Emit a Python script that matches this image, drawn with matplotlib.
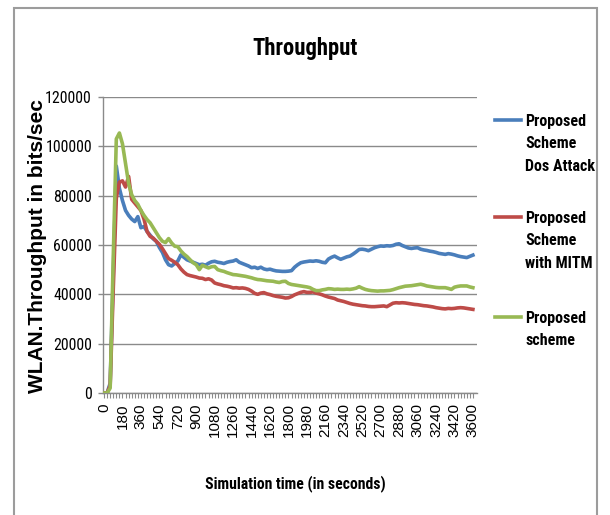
import matplotlib
matplotlib.use("Agg")
import matplotlib.pyplot as plt
from matplotlib import font_manager
from matplotlib.font_manager import FontProperties
from matplotlib.textpath import TextPath
from matplotlib.lines import Line2D
from matplotlib.patches import Rectangle
from matplotlib.ticker import FixedLocator

# ---- data: throughput sampled every 30 s -------------------------------
times = list(range(0, 3601, 30))

dos_attack = [
    0, 0, 4000, 48000, 92000, 83000, 78000, 74000, 72000, 70500,
    69500, 71500, 67000, 67500, 65500, 64000, 62500, 61500, 59000, 57000,
    54000, 52000, 51500, 52500, 53500, 56000, 55000, 54000, 53500, 53000,
    52500, 52000, 52200, 51800, 52600, 53200, 53400, 53000, 52800, 52500,
    53000, 53300, 53500, 54000, 53000, 52500, 52000, 51500, 50800, 51000,
    50500, 51000, 50300, 50000, 50200, 49800, 49500, 49400, 49300, 49300,
    49400, 49600, 51000, 52000, 52800, 53100, 53300, 53500, 53400, 53600,
    53400, 53000, 52800, 54300, 55000, 55500, 54800, 54200, 54700, 55200,
    55500, 56300, 57200, 58200, 58300, 58100, 57700, 58300, 58900, 59300,
    59600, 59500, 59700, 59600, 59800, 60300, 60500, 59800, 59300, 58800,
    58600, 58800, 58900, 58300, 58000, 57800, 57500, 57300, 57000, 56600,
    56400, 56200, 56500, 56300, 56000, 55600, 55300, 55100, 54900, 55400,
    55900,
]

with_mitm = [
    0, 0, 3000, 42000, 79000, 85500, 86000, 83500, 87800, 78500,
    77000, 75500, 74000, 70500, 65500, 63500, 62800, 61500, 60300, 58500,
    56500, 54500, 53800, 53000, 52000, 50300, 49000, 48000, 47600, 47300,
    47000, 46600, 46500, 46000, 46300, 45800, 44600, 44200, 43900, 43500,
    43300, 43000, 42600, 42700, 42500, 42600, 42400, 42000, 41300, 40400,
    40000, 40500, 40700, 40200, 39900, 39500, 39200, 39000, 38800, 38500,
    38600, 39100, 39800, 40300, 40800, 41100, 40800, 40800, 41000, 40500,
    40200, 39800, 39300, 38900, 38600, 38300, 37700, 37400, 37100, 36700,
    36300, 36000, 35800, 35600, 35400, 35300, 35100, 35000, 35000, 35100,
    35200, 35300, 35000, 35700, 36400, 36600, 36500, 36600, 36500, 36300,
    36100, 35900, 35800, 35600, 35400, 35300, 35100, 34900, 34600, 34400,
    34200, 34100, 34300, 34200, 34300, 34500, 34600, 34500, 34300, 34100,
    33900,
]

proposed = [
    0, 0, 2000, 55000, 103000, 105400, 101000, 93000, 85000, 80400,
    78000, 76500, 74000, 72000, 70300, 69000, 67000, 65000, 63000, 61500,
    61000, 62600, 60800, 59500, 59300, 57600, 56300, 55300, 54000, 52800,
    52000, 50000, 51800, 51200, 50700, 51200, 51300, 50000, 49600, 49300,
    48800, 48400, 48000, 47900, 47700, 47500, 47300, 47000, 46700, 46300,
    46000, 45900, 45700, 45500, 45400, 45300, 45000, 44800, 45200, 45300,
    44400, 44000, 43800, 43600, 43400, 43200, 43000, 42700, 42000, 41500,
    41500, 41800, 42000, 42300, 42200, 42000, 42100, 42000, 42000, 42100,
    42000, 42200, 42500, 43100, 42500, 42000, 41700, 41500, 41400, 41300,
    41400, 41400, 41500, 41600, 41900, 42300, 42700, 43000, 43300, 43400,
    43500, 43700, 43900, 44100, 43800, 43400, 43200, 43000, 42800, 42700,
    42700, 42700, 42400, 42000, 42900, 43200, 43400, 43400, 43400, 43000,
    42700,
]

series_labels = [
    "Proposed\nScheme\nDos Attack",
    "Proposed\nScheme\nwith MITM",
    "Proposed\nscheme",
]
series_colors = ["#4A7EBB", "#BE4B48", "#98B954"]

title = "Throughput"
x_title = "Simulation time (in seconds)"
y_title = "WLAN.Throughput in bits/sec"
y_ticks = [0, 20000, 40000, 60000, 80000, 100000, 120000]
x_label_step = 180

# ---- fonts: prefer a narrow sans for the horizontal texts ---------------
ttf = font_manager.fontManager.ttflist
names = {f.name for f in ttf}
REGULAR = "Liberation Sans"
narrow_family, narrow_stretch = REGULAR, "normal"
for cand in ["Liberation Sans Narrow", "Arial Narrow", "Roboto Condensed",
             "Open Sans Condensed", "Noto Sans Condensed", "Noto Sans Display Condensed"]:
    if cand in names:
        narrow_family = cand
        break
else:
    condensed = [f for f in ttf if str(f.stretch).endswith("condensed")]
    pref = ["Noto Sans", "Roboto", "Open Sans", "Lato", "Inter", "DejaVu Sans"]
    for p in pref:
        hit = [f for f in condensed if f.name == p]
        if hit:
            narrow_family, narrow_stretch = p, hit[0].stretch
            break


def prop(weight="normal", narrow=True):
    if narrow:
        return FontProperties(family=narrow_family, stretch=narrow_stretch, weight=weight)
    return FontProperties(family=REGULAR, weight=weight)


def fit_size(text, fp, target_px):
    """Point size that makes the ink width of text equal target_px at 100 dpi."""
    w = TextPath((0, 0), text, size=1, prop=fp).get_extents().width
    return target_px / w * 72 / 100


def cap_px(fp, size):
    h = TextPath((0, 0), "H", size=1, prop=fp).get_extents().height
    return h * size * 100 / 72


# ---- figure in pixel units -----------------------------------------------
W, H = 610, 515
fig = plt.figure(figsize=(W / 100, H / 100), dpi=100)
fig.patch.set_facecolor("white")


def fx(px):
    return px / W


def fy(py):
    return 1 - py / H


# outer chart border
fig.patches.append(Rectangle((fx(14), fy(530)), fx(597) - fx(14), fy(8) - fy(530),
                             transform=fig.transFigure, fill=False,
                             edgecolor="#9c9c9c", linewidth=1.5))

ax = fig.add_axes([fx(103), fy(393), fx(477) - fx(103), fy(97) - fy(393)])

grid_c = "#8a8a8a"
for ys, c in zip([dos_attack, with_mitm, proposed], series_colors):
    ax.plot(times, ys, color=c, linewidth=2.6, solid_joinstyle="round", zorder=3)

ax.set_ylim(0, 120000)
ax.set_xlim(-10, 3640)

tick_fp = prop("normal")
tick_size = fit_size("120000", tick_fp, 45)
ax.set_yticks(y_ticks)
ax.set_yticklabels([str(v) for v in y_ticks], fontproperties=tick_fp)
for t in ax.get_yticklabels():
    t.set_fontsize(tick_size)
ax.yaxis.grid(True, color=grid_c, linewidth=1.0)
ax.set_axisbelow(True)

ax.xaxis.set_major_locator(FixedLocator(times[::x_label_step // 30]))
ax.set_xticklabels([str(t) for t in times[::x_label_step // 30]],
                   rotation=90, fontfamily=REGULAR, fontsize=11)
ax.xaxis.set_minor_locator(FixedLocator(times))

for s in ["top", "right"]:
    ax.spines[s].set_visible(False)
for s in ["left", "bottom"]:
    ax.spines[s].set_color(grid_c)
    ax.spines[s].set_linewidth(1.0)

ax.tick_params(axis="y", which="major", length=3.5, width=1, color=grid_c, pad=4.5)
ax.tick_params(axis="x", which="both", length=3.5, width=0.8, color=grid_c, pad=4,
               direction="out")

# titles
bold_fp = prop("bold")
title_size = fit_size(title, bold_fp, 104)
fig.text(fx(305), fy(55), title, ha="center", va="baseline",
         fontproperties=bold_fp, fontsize=title_size)

xt_size = fit_size(x_title, bold_fp, 180)
fig.text(fx(295), fy(483 + cap_px(bold_fp, xt_size) / 2), x_title, ha="center",
         va="baseline", fontproperties=bold_fp, fontsize=xt_size)

yl_fp = prop("bold", narrow=False)
yl_size = fit_size(y_title, yl_fp, 292)
fig.text(fx(38), fy(246), y_title, ha="center", va="center", rotation=90,
         fontproperties=yl_fp, fontsize=yl_size)

# legend: sample line level with the first text row
leg_size = fit_size("Dos Attack", bold_fp, 69)
leg_cap = cap_px(bold_fp, leg_size)
row_step = 22.5
legend_rows = [120, 217, 317]
for lab, c, yc in zip(series_labels, series_colors, legend_rows):
    fig.lines.append(Line2D([fx(495), fx(521)], [fy(yc), fy(yc)],
                            transform=fig.transFigure, color=c, linewidth=2.6))
    for j, row in enumerate(lab.split("\n")):
        yrow = yc + j * row_step
        fig.text(fx(525), fy(yrow + leg_cap / 2), row, ha="left", va="baseline",
                 fontproperties=bold_fp, fontsize=leg_size)

fig.savefig("out.png", dpi=100, facecolor="white")
